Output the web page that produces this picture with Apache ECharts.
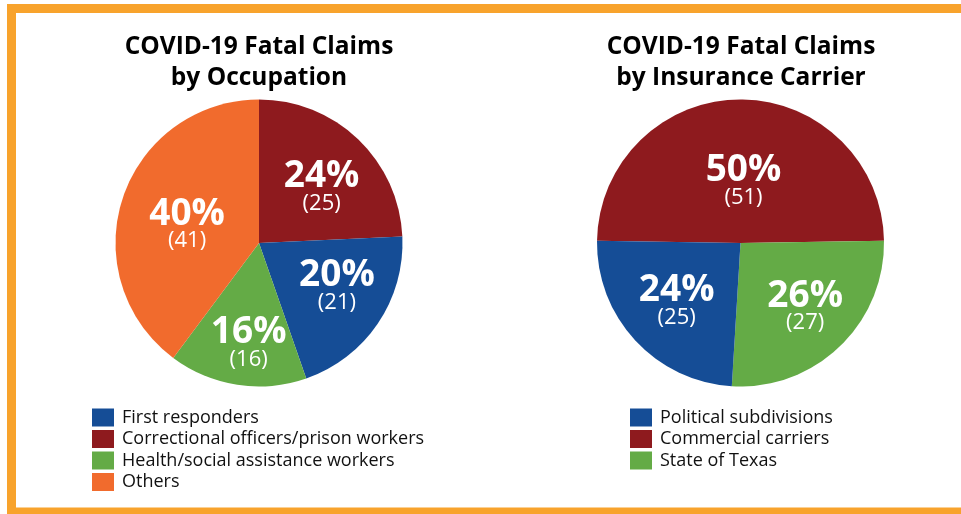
<!DOCTYPE html>
<html>
<head>
<meta charset="utf-8">
<script src="https://cdn.jsdelivr.net/npm/echarts@6/dist/echarts.min.js"></script>
<style>
  html, body { margin: 0; padding: 0; background: #fff; }
  #chart { width: 961px; height: 514px; }
</style>
</head>
<body>
<div id="chart"></div>
<script>
// occupation pie, clockwise from 12 o'clock
const occupationNames = [
  'Correctional officers/prison workers',
  'First responders',
  'Health/social assistance workers',
  'Others'
];
const occupationClaims = [25, 21, 16, 41];
const occupationLegend = [
  'First responders',
  'Correctional officers/prison workers',
  'Health/social assistance workers',
  'Others'
];

// carrier pie, clockwise from 9 o'clock
const carrierNames = ['Commercial carriers', 'State of Texas', 'Political subdivisions'];
const carrierClaims = [51, 27, 25];
const carrierLegend = ['Political subdivisions', 'Commercial carriers', 'State of Texas'];

const colors = {
  'Correctional officers/prison workers': '#8e1a1e',
  'First responders': '#154d96',
  'Health/social assistance workers': '#64ab46',
  'Others': '#f16b2d',
  'Commercial carriers': '#8e1a1e',
  'State of Texas': '#64ab46',
  'Political subdivisions': '#154d96'
};

// nudges for the labels inside the slices
const labelShift = [
  [[11, -1], [16, 2], [1, 27], [-1, 5.5]],
  [[3, 13], [13, 10], [-9, 8]]
];

const font = '"Open Sans", "DejaVu Sans", sans-serif';
const borderColor = '#f8a32c';

function pieData(names, values) {
  return names.map((n, i) => ({
    name: n,
    value: values[i],
    itemStyle: { color: colors[n] }
  }));
}

const sliceLabel = {
  show: true,
  position: 'inside',
  formatter: '{p|{d}%}\n{n|({c})}',
  rich: {
    p: { fontFamily: font, fontWeight: 'bold', fontSize: 37, lineHeight: 32, color: '#fff' },
    n: { fontFamily: font, fontSize: 22, lineHeight: 22, color: '#fff' }
  }
};

function legend(left, names) {
  return {
    orient: 'vertical',
    left: left,
    top: 408.5,
    padding: 0,
    itemWidth: 22,
    itemHeight: 18,
    itemGap: 3.5,
    icon: 'rect',
    selectedMode: false,
    data: names,
    textStyle: {
      fontFamily: font,
      fontSize: 18,
      lineHeight: 18,
      color: '#111',
      padding: [0, 0, 0, 3]
    }
  };
}

function title(x, text) {
  return {
    text: text,
    left: x,
    top: 32,
    padding: 0,
    textAlign: 'center',
    textStyle: {
      fontFamily: font,
      fontWeight: 'bold',
      fontSize: 24.5,
      lineHeight: 31,
      color: '#000'
    }
  };
}

const chart = echarts.init(document.getElementById('chart'));
chart.setOption({
  animation: false,
  backgroundColor: '#fff',
  title: [
    title(259, 'COVID-19 Fatal Claims\nby Occupation'),
    title(741, 'COVID-19 Fatal Claims\nby Insurance Carrier')
  ],
  legend: [legend(92, occupationLegend), legend(630, carrierLegend)],
  graphic: [
    { type: 'rect', shape: { x: 7, y: 4, width: 954, height: 9 }, style: { fill: borderColor } },
    { type: 'rect', shape: { x: 7, y: 4, width: 9, height: 510 }, style: { fill: borderColor } },
    { type: 'rect', shape: { x: 7, y: 507.5, width: 954, height: 7 }, style: { fill: borderColor } }
  ],
  series: [
    {
      type: 'pie',
      center: [259, 243],
      radius: 143.5,
      startAngle: 90,
      clockwise: true,
      percentPrecision: 0,
      avoidLabelOverlap: false,
      emphasis: { disabled: true },
      label: sliceLabel,
      labelLine: { show: false },
      labelLayout: p => ({ dx: labelShift[0][p.dataIndex][0], dy: labelShift[0][p.dataIndex][1] }),
      data: pieData(occupationNames, occupationClaims)
    },
    {
      type: 'pie',
      center: [740.5, 243],
      radius: 143.5,
      startAngle: 179.15,
      clockwise: true,
      percentPrecision: 0,
      avoidLabelOverlap: false,
      emphasis: { disabled: true },
      label: sliceLabel,
      labelLine: { show: false },
      labelLayout: p => ({ dx: labelShift[1][p.dataIndex][0], dy: labelShift[1][p.dataIndex][1] }),
      data: pieData(carrierNames, carrierClaims)
    }
  ]
});
</script>
</body>
</html>
